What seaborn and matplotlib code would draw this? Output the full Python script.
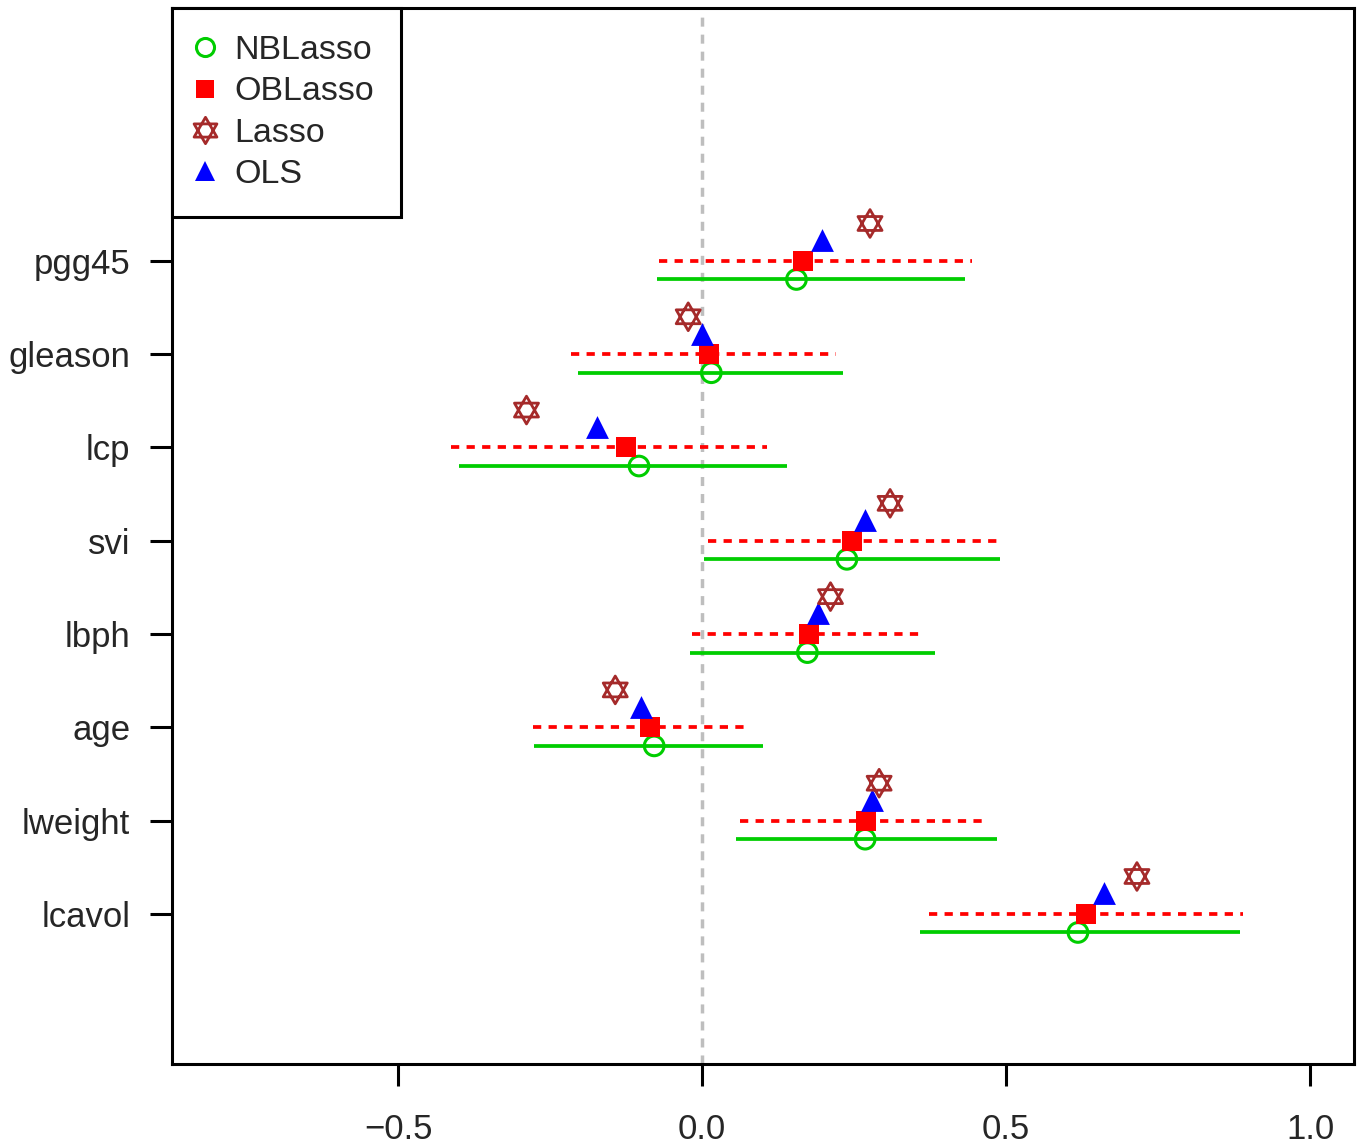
import numpy as np
import pandas as pd
import matplotlib
matplotlib.use("Agg")
import matplotlib.pyplot as plt
import seaborn as sns
from matplotlib.path import Path
from matplotlib.lines import Line2D

# ---- data ----
variables = ["lcavol", "lweight", "age", "lbph", "svi", "lcp", "gleason", "pgg45"]
ob_est = [0.632, 0.270, -0.086, 0.176, 0.247, -0.125, 0.012, 0.166]
ob_lo = [0.373, 0.062, -0.278, -0.016, 0.010, -0.413, -0.215, -0.071]
ob_hi = [0.890, 0.472, 0.074, 0.365, 0.495, 0.107, 0.220, 0.444]
nb_est = [0.618, 0.268, -0.079, 0.173, 0.238, -0.104, 0.015, 0.155]
nb_lo = [0.359, 0.056, -0.276, -0.020, 0.003, -0.400, -0.204, -0.074]
nb_hi = [0.885, 0.485, 0.100, 0.383, 0.490, 0.140, 0.232, 0.433]
lasso_est = [0.715, 0.291, -0.143, 0.211, 0.309, -0.289, -0.023, 0.276]
ols_est = [0.661, 0.280, -0.100, 0.191, 0.268, -0.173, 0.000, 0.197]
x_ticks = [-0.5, 0.0, 0.5, 1.0]

pos = np.arange(1, len(variables) + 1)
df = pd.DataFrame({"var": variables, "pos": pos,
                   "ob": ob_est, "ob_lo": ob_lo, "ob_hi": ob_hi,
                   "nb": nb_est, "nb_lo": nb_lo, "nb_hi": nb_hi,
                   "lasso": lasso_est, "ols": ols_est})

sns.set_style("ticks")
plt.rcParams["font.family"] = ["Liberation Sans", "DejaVu Sans"]

# hexagram marker (two overlaid triangles)
t = np.deg2rad([90, 210, 330, 90])
up = np.column_stack([np.cos(t), np.sin(t)])
down = up * np.array([1, -1])
verts = np.vstack([up, down])
codes = [Path.MOVETO, Path.LINETO, Path.LINETO, Path.CLOSEPOLY] * 2
hexagram = Path(verts, codes)

fig = plt.figure(figsize=(13.62, 11.45), dpi=100)
ax = fig.add_axes([172 / 1362, 1 - 1064 / 1145, (1354 - 172) / 1362, (1064 - 8) / 1145])

ax.axvline(0, color="#BEBEBE", lw=2.5, ls=(0, (2.6, 2.3)), zorder=1)

green = "#00CD00"
red = "#FF0000"
brown = "#A52A2A"
blue = "#0000FF"

ax.hlines(df["pos"], df["ob_lo"], df["ob_hi"], color=red, lw=2.7, linestyles=(0, (2.2, 1.95)), zorder=2)
ax.hlines(df["pos"] - 0.2, df["nb_lo"], df["nb_hi"], color=green, lw=2.7, zorder=2)

sns.scatterplot(x=df["nb"], y=df["pos"] - 0.2, ax=ax, marker="o", s=200,
                facecolors="none", edgecolor=green, linewidth=2.2, zorder=3)
sns.scatterplot(x=df["ob"], y=df["pos"], ax=ax, marker="s", s=200,
                color=red, edgecolor=red, linewidth=0, zorder=3)
sns.scatterplot(x=df["ols"], y=df["pos"] + 0.22, ax=ax, marker="^", s=270,
                color=blue, edgecolor=blue, linewidth=0, zorder=3)
sns.scatterplot(x=df["lasso"], y=df["pos"] + 0.4, ax=ax, marker=hexagram, s=400,
                facecolors="none", edgecolor=brown, linewidth=2.0, zorder=3)

ax.set_xlim(-0.872, 1.072)
ax.set_ylim(-0.61, 10.71)
ax.set_xticks(x_ticks)
ax.set_xticklabels([f"{v:.1f}".replace("-", "\u2212") for v in x_ticks])
ax.set_yticks(pos)
ax.set_yticklabels(variables)
ax.set_xlabel("")
ax.set_ylabel("")
ax.tick_params(axis="both", labelsize=25, length=16, width=2.2, direction="out", color="black")
ax.tick_params(axis="x", pad=19)
ax.tick_params(axis="y", pad=14)
for sp in ax.spines.values():
    sp.set_visible(True)
    sp.set_linewidth(2.2)
    sp.set_color("black")

handles = [
    Line2D([], [], ls="none", marker="o", ms=13, mfc="none", mec=green, mew=2.2),
    Line2D([], [], ls="none", marker="s", ms=13, mfc=red, mec=red, mew=0),
    Line2D([], [], ls="none", marker=hexagram, ms=19, mfc="none", mec=brown, mew=2.0),
    Line2D([], [], ls="none", marker="^", ms=15, mfc=blue, mec=blue, mew=0),
]
leg = ax.legend(handles, ["NBLasso", "OBLasso", "Lasso", "OLS"], loc="upper left",
                bbox_to_anchor=(0, 1), borderaxespad=0, fontsize=24.5, frameon=True,
                fancybox=False, edgecolor="black", framealpha=1, handletextpad=0.68,
                labelspacing=0.3, borderpad=0.8, handlelength=0.35)
leg.get_frame().set_linewidth(2.2)

fig.savefig("out.png", dpi=100)
